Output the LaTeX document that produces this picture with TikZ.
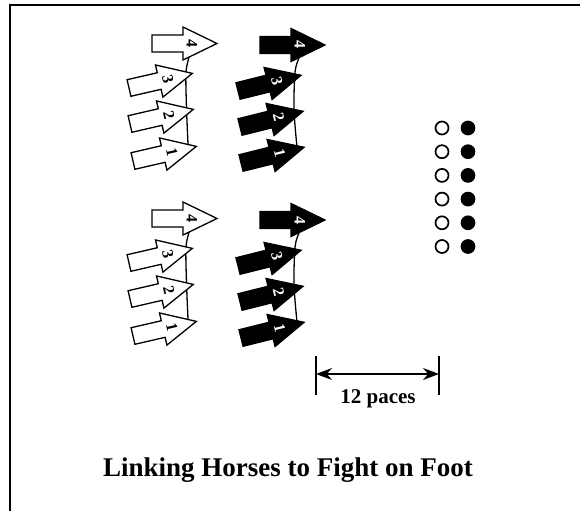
\documentclass[tikz,border=0pt]{standalone}
\usepackage{fontspec}
\setmainfont{Liberation Serif}
\usetikzlibrary{arrows.meta}

\tikzset{
  horse/.style={draw, line width=1.3pt, line join=miter},
  num/.style={font=\fontsize{16}{16}\selectfont\bfseries, inner sep=0pt},
  dot/.style={circle, draw, line width=1.7pt, minimum size=13pt, inner sep=0pt},
  link/.style={line width=1.3pt},
  bar/.style={line width=1.6pt},
}

% #1 name, #2 tail, #3 angle, #4 fill, #5 text colour, #6 number
\newcommand\horsearrow[6]{%
  \begin{scope}[shift={#2}, rotate=#3]
    \draw[horse, fill=#4] (0,-8.5) -- (31,-8.5) -- (31,-16.5) -- (65,0)
      -- (31,16.5) -- (31,8.5) -- (0,8.5) -- cycle;
    \node[num, text=#5, rotate=#3-90] (#1) at (40,0) {#6};
  \end{scope}}

\begin{document}
\begin{tikzpicture}[x=1pt, y=-1pt]
  \useasboundingbox (0,0) rectangle (580,511);
  % frame
  \draw[line width=2pt] (9.5,511) -- (9.5,5) -- (580,5);

  % two groups of linked horses
  \foreach \g/\dy in {t/0, l/175} {
    \begin{scope}[shift={(0,\dy)}]
      % links
      \coordinate (\g wl4) at (190,54);
      \coordinate (\g wl3) at (186,72);
      \coordinate (\g wl2) at (186.5,108);
      \coordinate (\g wl1) at (188,144);
      \coordinate (\g bl4) at (299,58);
      \coordinate (\g bl3) at (295,72);
      \coordinate (\g bl2) at (294,110);
      \coordinate (\g bl1) at (297,147);
      \draw[link] plot[smooth] coordinates {(\g wl4) (\g wl3) (\g wl2) (\g wl1)};
      \draw[link] plot[smooth] coordinates {(\g bl4) (\g bl3) (\g bl2) (\g bl1)};
      % mounted men, white
      \horsearrow{\g w4}{(152,43.5)}{0}{white}{black}{4}
      \horsearrow{\g w3}{(129,88)}{13}{white}{black}{3}
      \horsearrow{\g w2}{(130,124)}{13}{white}{black}{2}
      \horsearrow{\g w1}{(133,161)}{13}{white}{black}{1}
      % mounted men, black
      \horsearrow{\g b4}{(260,45)}{0}{black}{white}{4}
      \horsearrow{\g b3}{(238,91)}{14}{black}{white}{3}
      \horsearrow{\g b2}{(240,127)}{14}{black}{white}{2}
      \horsearrow{\g b1}{(241,163)}{14}{black}{white}{1}
    \end{scope}
  }

  % dismounted men
  \foreach \i in {0,...,5} {
    \node[dot, fill=white] (o\i) at (442,128+23.7*\i) {};
    \node[dot, fill=black] (f\i) at (468,128+23.7*\i) {};
  }

  % distance
  \coordinate (pl) at (316,374);
  \coordinate (pr) at (439,374);
  \draw[bar] (316,356) -- (316,395);
  \draw[bar] (439,356) -- (439,395);
  \draw[line width=1.4pt, {Stealth[length=16pt,width=12pt]}-{Stealth[length=16pt,width=12pt]}] (pl) -- (pr);
  \node[font=\fontsize{21}{21}\selectfont\bfseries, anchor=base] (paces) at (378,403) {12 paces};

  \node[font=\fontsize{27}{27}\selectfont\bfseries, anchor=base] (title) at (288,476) {Linking Horses to Fight on Foot};
\end{tikzpicture}
\end{document}
